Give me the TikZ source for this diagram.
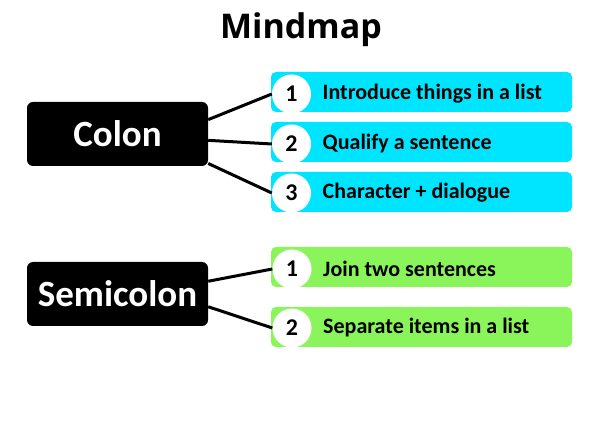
\documentclass[tikz,border=0pt]{standalone}
\usepackage{fontspec}
\setmainfont{Carlito}
\newfontfamily\titlefont{Open Sans}
\usepackage{tikz}
\usetikzlibrary{positioning}

\definecolor{cyanbox}{RGB}{0,229,255}
\definecolor{greenbox}{RGB}{138,245,90}

\begin{document}
\begin{tikzpicture}[
    x=1pt, y=-1pt,
    topic/.style={fill=black, text=white, rounded corners=6pt, minimum width=181pt, minimum height=64pt, font=\fontsize{37}{42}\selectfont\bfseries},
    item/.style={rounded corners=5pt, minimum width=301pt, minimum height=40pt},
    num/.style={circle, fill=white, minimum size=39pt, inner sep=0pt, font=\fontsize{24}{28}\selectfont\bfseries},
    lbl/.style={right=8pt of #1, font=\fontsize{22}{26}\selectfont\bfseries},
    link/.style={line width=3pt}
]
    \useasboundingbox (0,0) rectangle (602,427);
    \node[font=\titlefont\fontsize{34}{40}\selectfont\bfseries] (title) at (301,30) {Mindmap};

    % colon
    \node[topic] (colon) at (117.5,134) {Colon};
    \node[item, fill=cyanbox] (c1) at (421.5,92) {};
    \node[item, fill=cyanbox] (c2) at (421.5,142) {};
    \node[item, fill=cyanbox] (c3) at (421.5,192) {};
    \node[num] (n1) at (291.5,94) {1};
    \node[num] (n2) at (291.5,144) {2};
    \node[num] (n3) at (291.5,193) {3};
    \node[lbl=n1] (t1) {Introduce things in a list};
    \node[lbl=n2] (t2) {Qualify a sentence};
    \node[lbl=n3] (t3) {Character + dialogue};

    \draw[link] (colon.9) -- (n1.west);
    \draw[link] (colon.-4) -- (n2.west);
    \draw[link] (colon.-18) -- (n3.west);

    % semicolon
    \node[topic] (semi) at (117.5,294) {Semicolon};
    \node[item, fill=greenbox] (s1) at (421.5,267) {};
    \node[item, fill=greenbox] (s2) at (421.5,327) {};
    \node[num] (m1) at (292,269) {1};
    \node[num] (m2) at (292,328) {2};
    \node[lbl=m1] (u1) {Join two sentences};
    \node[lbl=m2] (u2) {Separate items in a list};

    \draw[link] (semi.8) -- (m1.west);
    \draw[link] (semi.-8) -- (m2.west);
\end{tikzpicture}
\end{document}
